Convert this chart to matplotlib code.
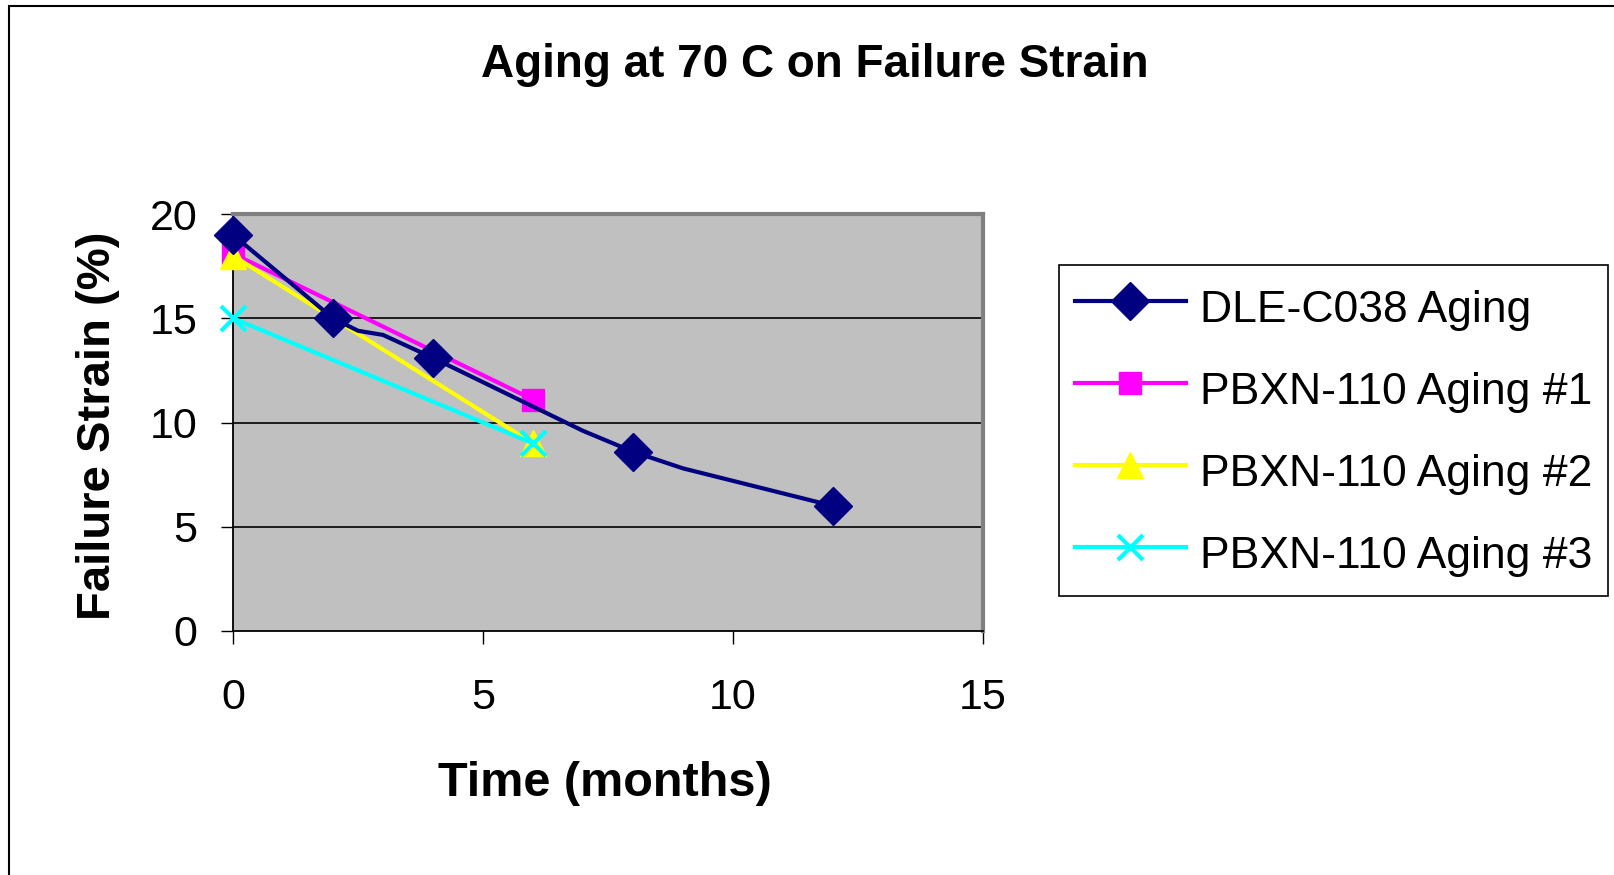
import matplotlib
matplotlib.use("Agg")
import matplotlib.pyplot as plt
from matplotlib.patches import Rectangle

plt.rcParams['font.family'] = ['Liberation Sans', 'DejaVu Sans']

# data
dle_time = [0, 2, 2.5, 3, 4, 7, 8, 9, 12]
dle_strain = [19, 15, 14.4, 14.2, 13.1, 9.6, 8.6, 7.8, 6]
dle_marked = [0, 1, 4, 6, 8]          # measured points that carry a marker

pbx_time = [0, 6]
pbx1_strain = [18.1, 11.1]
pbx2_strain = [18.0, 9.0]
pbx3_strain = [15.0, 9.0]

labels = ['DLE-C038 Aging', 'PBXN-110 Aging #1',
          'PBXN-110 Aging #2', 'PBXN-110 Aging #3']
xticks = [0, 5, 10, 15]
yticks = [0, 5, 10, 15, 20]

W, H = 1614, 875
fig = plt.figure(figsize=(W / 100, H / 100), dpi=100)

# plot area in pixels: x 233..983, y 214..631
ax = fig.add_axes([233 / W, 1 - 631 / H, (983 - 233) / W, (631 - 214) / H])
ax.set_facecolor('#C0C0C0')

lw = 3
ax.plot(dle_time, dle_strain, color='#000080', lw=lw, marker='D', ms=19,
        markevery=dle_marked, label=labels[0], zorder=5, clip_on=False)
ax.plot(pbx_time, pbx1_strain, color='#FF00FF', lw=lw, marker='s', ms=16,
        label=labels[1], zorder=4, clip_on=False)
ax.plot(pbx_time, pbx2_strain, color='#FFFF00', lw=lw, marker='^', ms=19,
        label=labels[2], zorder=4, clip_on=False)
ax.plot(pbx_time, pbx3_strain, color='#00FFFF', lw=lw, marker='x', ms=18,
        mew=3, label=labels[3], zorder=6, clip_on=False)

ax.set_xlim(0, 15)
ax.set_ylim(0, 20)
ax.set_xticks(xticks)
ax.set_yticks(yticks)
for y in yticks[1:-1]:
    ax.axhline(y, color='black', lw=1.2, zorder=1)

for s in ['top', 'right']:
    ax.spines[s].set_color('#808080')
    ax.spines[s].set_linewidth(3)
for s in ['left', 'bottom']:
    ax.spines[s].set_color('black')
    ax.spines[s].set_linewidth(1.3)

ax.tick_params(axis='x', direction='out', length=9.5, width=1, pad=24,
               labelsize=31)
ax.tick_params(axis='y', direction='out', length=8.5, width=1, pad=17,
               labelsize=31)

ax.set_xlabel('Time (months)', fontsize=35, fontweight='bold')
ax.xaxis.set_label_coords((605 - 233) / (983 - 233), -(784 - 631) / (631 - 214))
ax.xaxis.label.set_va('center')
ax.set_ylabel('Failure Strain (%)', fontsize=34, fontweight='bold')
ax.yaxis.set_label_coords(-(233 - 98) / (983 - 233), (631 - 426) / (631 - 214))
ax.yaxis.label.set_va('center')

fig.text(815 / W, 1 - 77 / H, 'Aging at 70 C on Failure Strain',
         fontsize=33, fontweight='bold', ha='center', va='baseline')

leg = ax.legend(loc='upper left', bbox_to_anchor=(1059 / W, 1 - 265 / H),
                bbox_transform=fig.transFigure, fontsize=32, frameon=True,
                fancybox=False, edgecolor='black', framealpha=1,
                handlelength=2.5, handleheight=1.5, handletextpad=0.32,
                borderpad=0.35, labelspacing=0.62, borderaxespad=0)
leg.get_frame().set_linewidth(1.2)

# outer chart border (runs off the right and bottom edges)
fig.patches.append(Rectangle((9 / W, -0.1), 1.2, 1 - 6 / H + 0.1,
                             transform=fig.transFigure, fill=False,
                             edgecolor='black', lw=1.5))

fig.savefig('out.png', dpi=100)
